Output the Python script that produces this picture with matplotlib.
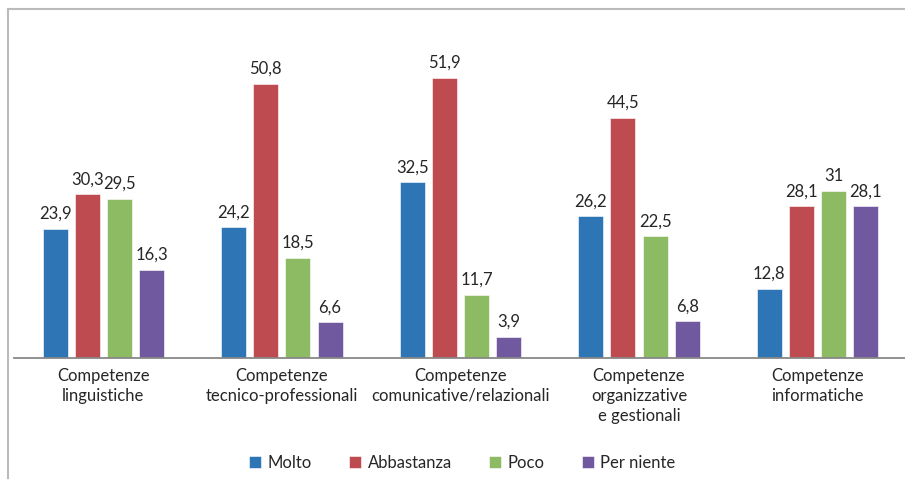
import numpy as np
from matplotlib import pyplot as plt
from matplotlib.lines import Line2D

plt.rcParams['font.family'] = ['Lato', 'DejaVu Sans']

categories = ["Competenze\nlinguistiche",
              "Competenze\ntecnico-professionali",
              "Competenze\ncomunicative/relazionali",
              "Competenze\norganizzative\ne gestionali",
              "Competenze\ninformatiche"]
series = ["Molto", "Abbastanza", "Poco", "Per niente"]
molto = [23.9, 24.2, 32.5, 26.2, 12.8]
abbastanza = [30.3, 50.8, 51.9, 44.5, 28.1]
poco = [29.5, 18.5, 11.7, 22.5, 31.0]
per_niente = [16.3, 6.6, 3.9, 6.8, 28.1]
colors = ["#2E75B6", "#BE4B50", "#8CBB63", "#7159A0"]

values = [molto, abbastanza, poco, per_niente]

fig = plt.figure(figsize=(9.05, 4.86), dpi=100)
ax = fig.add_axes([0.0155, 0.2634, 0.9865, 0.667])

x = np.arange(len(categories))
width = 0.14
step = 0.18
for i, (name, vals) in enumerate(zip(series, values)):
    pos = x + (i - 1.5) * step
    bars = ax.bar(pos, vals, width, color=colors[i], label=name,
                  edgecolor="white", linewidth=0.4)
    for b, v in zip(bars, vals):
        txt = f"{v:g}".replace(".", ",")
        ax.annotate(txt, (b.get_x() + b.get_width() / 2, v),
                    xytext=(0, 5), textcoords="offset points",
                    ha="center", va="bottom", fontsize=12, color="#262626")

ax.set_xlim(-0.5, len(categories) - 0.5)
ax.set_ylim(0, 60)
ax.set_yticks([])
ax.set_xticks(x)
ax.set_xticklabels(categories, fontsize=12, color="#262626", linespacing=1.3)
ax.tick_params(axis="x", length=0, pad=7)
for s in ["top", "right", "left"]:
    ax.spines[s].set_visible(False)
ax.spines["bottom"].set_color("#888888")
ax.spines["bottom"].set_linewidth(1.3)

# frame of the chart area
fig.add_artist(Line2D([8 / 905, 8 / 905], [1 - 9 / 486, 1 - 478 / 486],
                      color="#BBBBBB", lw=1.5, transform=fig.transFigure))
fig.add_artist(Line2D([8 / 905, 1.0], [1 - 9 / 486, 1 - 9 / 486],
                      color="#BBBBBB", lw=1.5, transform=fig.transFigure))

leg = fig.legend(loc="center", bbox_to_anchor=(0.511, 1 - 463 / 486), ncol=4,
                 frameon=False, fontsize=12, handlelength=0.7,
                 handleheight=0.7, handletextpad=0.4, columnspacing=2.25)
for t in leg.get_texts():
    t.set_color("#262626")

fig.savefig("out.png", dpi=100)
